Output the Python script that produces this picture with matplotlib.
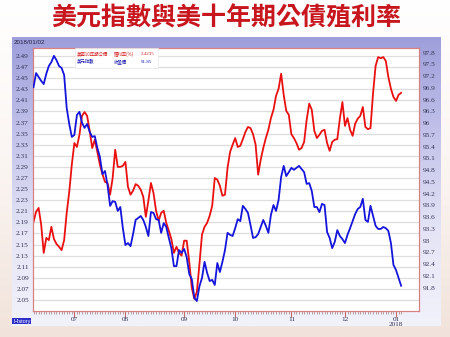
import numpy as np
import matplotlib
matplotlib.use("Agg")
import matplotlib.pyplot as plt
from matplotlib.colors import LinearSegmentedColormap
from matplotlib.patches import Rectangle

# ---------------- data ----------------
title = "美元指數與美十年期公債殖利率"
date_label = "2018/01/02"
yield_name, yield_field, yield_last = "美國10年期公債", "殖利率(%)", "2.4235"
dxy_name, dxy_field, dxy_last = "美元指數", "收盤價", "91.85"

# US 10Y yield (%), one value per trading day (2017-06-09 .. 2018-01-02)
yields = [2.191, 2.209, 2.216, 2.186, 2.135, 2.162, 2.158, 2.182, 2.160, 2.151,
          2.146, 2.140, 2.158, 2.207, 2.245, 2.294, 2.333, 2.326, 2.348, 2.382,
          2.389, 2.382, 2.355, 2.324, 2.339, 2.317, 2.294, 2.277, 2.263, 2.261,
          2.240, 2.270, 2.321, 2.290, 2.290, 2.292, 2.299, 2.254, 2.240, 2.247,
          2.259, 2.256, 2.249, 2.236, 2.200, 2.229, 2.261, 2.243, 2.211, 2.193,
          2.207, 2.211, 2.189, 2.175, 2.160, 2.135, 2.146, 2.135, 2.130, 2.157,
          2.157, 2.119, 2.072, 2.052, 2.065, 2.115, 2.168, 2.182, 2.189, 2.202,
          2.220, 2.270, 2.267, 2.256, 2.238, 2.240, 2.288, 2.317, 2.330, 2.342,
          2.326, 2.328, 2.340, 2.353, 2.362, 2.360, 2.349, 2.330, 2.276, 2.303,
          2.324, 2.342, 2.357, 2.378, 2.393, 2.418, 2.431, 2.458, 2.420, 2.391,
          2.384, 2.349, 2.342, 2.333, 2.321, 2.324, 2.335, 2.375, 2.404, 2.393,
          2.355, 2.342, 2.348, 2.355, 2.357, 2.333, 2.319, 2.335, 2.339, 2.340,
          2.377, 2.407, 2.364, 2.378, 2.357, 2.346, 2.368, 2.377, 2.382, 2.398,
          2.362, 2.358, 2.360, 2.423, 2.472, 2.488, 2.486, 2.488, 2.481, 2.452,
          2.431, 2.416, 2.409, 2.420, 2.4235]

# US dollar index close, same trading days
dxy = [96.92, 97.28, 97.18, 97.08, 97.00, 97.26, 97.46, 97.56, 97.72, 97.61,
       97.46, 97.41, 97.23, 96.39, 95.98, 95.65, 95.70, 96.21, 96.29, 96.01,
       95.88, 95.98, 95.78, 95.65, 95.67, 95.37, 95.14, 94.70, 94.78, 94.42,
       93.89, 94.01, 93.99, 93.76, 93.86, 93.32, 92.89, 92.94, 92.86, 93.17,
       93.53, 93.58, 93.63, 93.53, 93.35, 93.12, 93.73, 93.71, 93.55, 93.53,
       93.20, 93.45, 93.35, 93.07, 92.81, 92.35, 92.35, 92.76, 92.69, 92.79,
       92.58, 92.15, 92.02, 91.54, 91.46, 91.84, 92.05, 92.46, 92.18, 91.97,
       92.00, 91.87, 92.43, 92.20, 92.46, 92.76, 93.20, 93.15, 93.12, 93.32,
       93.55, 93.50, 93.89, 93.81, 93.71, 93.40, 93.07, 93.09, 93.17, 93.35,
       93.53, 93.38, 93.20, 93.66, 93.91, 93.76, 94.04, 94.63, 94.91, 94.65,
       94.75, 94.86, 94.81, 94.86, 94.91, 94.83, 94.75, 94.45, 94.47, 94.27,
       93.86, 93.86, 93.73, 93.94, 93.91, 93.22, 93.07, 92.81, 92.97, 93.27,
       93.12, 93.04, 92.94, 93.15, 93.32, 93.50, 93.68, 93.81, 93.86, 94.07,
       93.53, 93.48, 93.89, 93.63, 93.38, 93.30, 93.30, 93.35, 93.32, 93.25,
       92.94, 92.38, 92.25, 92.05, 91.85]

month_labels = ["07", "08", "09", "10", "11", "12", "01\n2018"]
month_start_idx = [16, 36, 59, 79, 101, 122, 142]   # trading-day index of first day of month

left_ticks = [2.49, 2.47, 2.45, 2.43, 2.41, 2.39, 2.37, 2.35, 2.33, 2.31, 2.29, 2.27,
              2.25, 2.23, 2.21, 2.19, 2.17, 2.15, 2.13, 2.11, 2.09, 2.07, 2.05]
right_ticks = [97.8, 97.5, 97.2, 96.9, 96.6, 96.3, 96.0, 95.7, 95.4, 95.1, 94.8,
               94.5, 94.2, 93.9, 93.6, 93.3, 93.0, 92.7, 92.4, 92.1, 91.8]
right_tick_labels = ["97.8", "97.5", "97.2", "96.9", "96.6", "96.3", "96", "95.7",
                     "95.4", "95.1", "94.8", "94.5", "94.2", "93.9", "93.6", "93.3",
                     "93", "92.7", "92.4", "92.1", "91.8"]

# ---------------- figure ----------------
W, H = 450, 337
fig = plt.figure(figsize=(W / 100, H / 100), dpi=100)
cjk = ["Noto Sans CJK TC", "DejaVu Sans"]
num_font = "Liberation Serif"


def fx(px):
    return px / W


def fy(py):
    return 1 - py / H


# slide background
bg = fig.add_axes([0, 0, 1, 1], zorder=-10)
bg.axis("off")
grad = np.linspace(0, 1, 256).reshape(-1, 1)
bg.imshow(grad, aspect="auto", extent=[0, 1, 0, 1],
          cmap=LinearSegmentedColormap.from_list("bg", ["#ffffff", "#fbf5f2", "#f1e3db"]))

# chart panel (lavender gradient)
panel = fig.add_axes([fx(12), fy(326), fx(441 - 12), (326 - 37) / H], zorder=-5)
panel.axis("off")
panel.imshow(grad, aspect="auto", extent=[0, 1, 0, 1],
             cmap=LinearSegmentedColormap.from_list("pn", ["#9e9edb", "#c2c2ea", "#e4e4f6", "#f2f2fb"]))

# title
fig.text(fx(226.7), fy(18), title, fontsize=18, color="#c8161f", ha="center",
         va="center", family=cjk, fontweight="bold")
fig.text(fx(14), fy(43), date_label, fontsize=4.5, color="#222244", va="center",
         family="Liberation Sans")
fig.text(fx(13), fy(321), "History", fontsize=4, color="white", va="center",
         family="Liberation Sans",
         bbox=dict(facecolor="#2c2cc8", edgecolor="none", pad=0.6))

# main axes
ax = fig.add_axes([fx(33), fy(311), fx(419 - 33), (311 - 48) / H])
ax.set_facecolor("white")
x = np.arange(len(yields))
ax.plot(x, yields, color="#ea1010", lw=1.3, zorder=3)
ax.set_xlim(-0.2, 151)
ax.set_ylim(2.0302, 2.5044)
ax.set_yticks(left_ticks)
ax.set_yticklabels([f"{v:.2f}" for v in left_ticks], fontsize=5.2, family=num_font,
                   color="#333355")
ax.tick_params(axis="y", length=0, pad=3)
ax.grid(axis="y", color="#dedede", lw=0.9)
ax.set_xticks(month_start_idx)
ax.set_xticklabels(month_labels, fontsize=5.2, family=num_font, color="#333355",
                   linespacing=0.9)
ax.set_xticks(x, minor=True)
ax.tick_params(axis="x", which="major", length=4, color="#c06868", pad=0.5, direction="out")
ax.tick_params(axis="x", which="minor", length=1.8, color="#b09090", width=0.6)

ax2 = ax.twinx()
ax2.plot(x, dxy, color="#1414dc", lw=1.3, zorder=3)
ax2.set_ylim(91.205, 97.92)
ax2.set_yticks(right_ticks)
ax2.set_yticklabels(right_tick_labels, fontsize=5.2, family=num_font, color="#333355")
ax2.tick_params(axis="y", length=0, pad=3)
ax2.patch.set_visible(False)

for a in (ax, ax2):
    for s in a.spines.values():
        s.set_color("#d88080")
        s.set_linewidth(0.8)

# legend box
fig.patches.append(Rectangle((fx(75), fy(68)), fx(158 - 75), (68 - 48) / H,
                             transform=fig.transFigure, facecolor="white",
                             edgecolor="#e6e6e6", lw=0.5, zorder=5))
rows = [(54, yield_name, yield_field, yield_last, "#d42020"),
        (62, dxy_name, dxy_field, dxy_last, "#1c1cb0")]
for py, name, field, last, col in rows:
    fig.text(fx(77), fy(py), name, fontsize=3.2, color=col, family=cjk, va="center", zorder=6)
    fig.text(fx(114), fy(py), field, fontsize=3.2, color=col, family=cjk, va="center", zorder=6)
    fig.text(fx(141), fy(py), last, fontsize=3.6, color=col, family=num_font, va="center", zorder=6)

fig.savefig("out.png", dpi=100)
